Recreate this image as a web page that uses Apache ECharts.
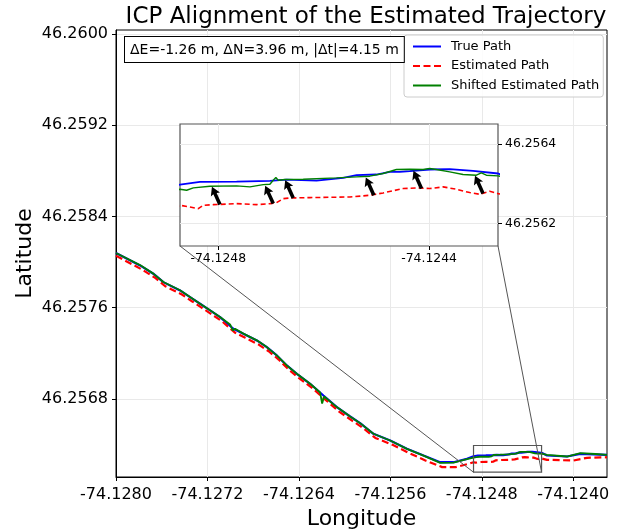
<!DOCTYPE html>
<html>
<head>
<meta charset="utf-8">
<title>ICP Alignment of the Estimated Trajectory</title>
<script src="https://cdn.jsdelivr.net/npm/echarts@6/dist/echarts.min.js"></script>
<style>
    html, body { margin: 0; padding: 0; background: #fff; }
    #chart { width: 618px; height: 529px; }
</style>
</head>
<body>
<div id="chart"></div>
<script>
// true GPS path
var trueLon = [-74.1280000, -74.1277899, -74.1276735, -74.1275860, -74.1274398, -74.1273523, -74.1272648,
    -74.1271772, -74.1270897, -74.1269733, -74.1268857, -74.1267684, -74.1266809, -74.1265934, -74.1265059,
    -74.1264183, -74.1263019, -74.1261855, -74.1260682, -74.1259518, -74.1258643, -74.1257479, -74.1256017,
    -74.1254555, -74.1253102, -74.1251640, -74.1250476, -74.1249303,
    -74.1248726, -74.1248347, -74.1247652, -74.1247020, -74.1246704, -74.1246136, -74.1245630, -74.1245377,
    -74.1244998, -74.1244746, -74.1244556, -74.1244366, -74.1243987, -74.1243608, -74.1243166, -74.1242692,
    -74.1242301, -74.1240550, -74.1239386, -74.1237049];
var trueLat = [46.2580790, 46.2579711, 46.2578983, 46.2578246, 46.2577518, 46.2576930, 46.2576351,
    46.2575763, 46.2575176, 46.2574158, 46.2573719, 46.2573132, 46.2572544, 46.2571816, 46.2570939,
    46.2570211, 46.2569333, 46.2568307, 46.2567281, 46.2566465, 46.2565877, 46.2564947, 46.2564360,
    46.2563632, 46.2563044, 46.2562456, 46.2562456, 46.2562754,
    46.2562978, 46.2563046, 46.2563054, 46.2563071, 46.2563104, 46.2563079, 46.2563147, 46.2563214,
    46.2563231, 46.2563298, 46.2563298, 46.2563315, 46.2563357, 46.2563365, 46.2563323, 46.2563256,
    46.2563044, 46.2562956, 46.2563193, 46.2563105];

// estimated path (before alignment)
var estLon = [-74.1280000, -74.1277734, -74.1276570, -74.1275695, -74.1274233, -74.1273358, -74.1272483,
    -74.1271607, -74.1270732, -74.1269568, -74.1268692, -74.1267519, -74.1266644, -74.1265769, -74.1264894,
    -74.1264018, -74.1262854, -74.1261690, -74.1260517, -74.1259353, -74.1258478, -74.1257314, -74.1255852,
    -74.1254390, -74.1252937, -74.1251475, -74.1250311, -74.1249138,
    -74.1248726, -74.1248537, -74.1248379, -74.1248284, -74.1248095, -74.1247652, -74.1247273, -74.1247020,
    -74.1246894, -74.1246768, -74.1246641, -74.1246262, -74.1245504, -74.1245125, -74.1244872, -74.1244493,
    -74.1244240, -74.1243987, -74.1243734, -74.1243482, -74.1243229, -74.1243039, -74.1242850, -74.1242692,
    -74.1242301, -74.1239973, -74.1238800, -74.1237049];
var estLat = [46.2580560, 46.2579351, 46.2578623, 46.2577886, 46.2577158, 46.2576570, 46.2575991,
    46.2575403, 46.2574816, 46.2573798, 46.2573359, 46.2572772, 46.2572184, 46.2571456, 46.2570579,
    46.2569851, 46.2568973, 46.2567947, 46.2566921, 46.2566105, 46.2565517, 46.2564587, 46.2564000,
    46.2563272, 46.2562614, 46.2562026, 46.2562018, 46.2562316,
    46.2562457, 46.2562415, 46.2562373, 46.2562457, 46.2562474, 46.2562499, 46.2562474, 46.2562499,
    46.2562524, 46.2562625, 46.2562642, 46.2562651, 46.2562667, 46.2562709, 46.2562768, 46.2562878,
    46.2562894, 46.2562878, 46.2562920, 46.2562861, 46.2562777, 46.2562735, 46.2562810, 46.2562751,
    46.2562667, 46.2562605, 46.2562842, 46.2562895];

// estimated path after the ICP shift
var shiftedLon = [-74.1280000, -74.1277899, -74.1276735, -74.1275860, -74.1274398, -74.1273523, -74.1272648,
    -74.1271772, -74.1270897, -74.1270022, -74.1269785, -74.1269584, -74.1268857, -74.1267684, -74.1266809,
    -74.1265934, -74.1265059, -74.1264183, -74.1263019, -74.1262144, -74.1261969, -74.1261794, -74.1260682,
    -74.1259518, -74.1258643, -74.1257479, -74.1256017, -74.1254555, -74.1253102, -74.1251640, -74.1250476,
    -74.1249303,
    -74.1248726, -74.1248600, -74.1248474, -74.1248158, -74.1247652, -74.1247399, -74.1247147, -74.1247020,
    -74.1246957, -74.1246907, -74.1246862, -74.1246736, -74.1246388, -74.1245757, -74.1245377, -74.1245125,
    -74.1244872, -74.1244619, -74.1244366, -74.1244114, -74.1243987, -74.1243861, -74.1243608, -74.1243355,
    -74.1243103, -74.1243008, -74.1242913, -74.1242692,
    -74.1242301, -74.1240550, -74.1239386, -74.1238073, -74.1237049];
var shiftedLat = [46.2580800, 46.2579740, 46.2578990, 46.2578260, 46.2577530, 46.2576950, 46.2576360,
    46.2575770, 46.2575190, 46.2574535, 46.2574009, 46.2574158, 46.2573730, 46.2573140, 46.2572550,
    46.2571820, 46.2570940, 46.2570220, 46.2569340, 46.2568570, 46.2567605, 46.2568219, 46.2567290,
    46.2566470, 46.2565880, 46.2564950, 46.2564360, 46.2563630, 46.2563040, 46.2562400, 46.2562420,
    46.2562720,
    46.2562861, 46.2562835, 46.2562894, 46.2562936, 46.2562945, 46.2562920, 46.2562978, 46.2562987,
    46.2563088, 46.2563155, 46.2563088, 46.2563104, 46.2563113, 46.2563147, 46.2563172, 46.2563189,
    46.2563256, 46.2563357, 46.2563365, 46.2563357, 46.2563382, 46.2563357, 46.2563298, 46.2563231,
    46.2563214, 46.2563273, 46.2563214, 46.2563197,
    46.2563105, 46.2562956, 46.2563246, 46.2563175, 46.2563105];

// quiver arrows (tail on estimated path, displacement in degrees)
var arrowLon = [-74.1247968, -74.1246957, -74.1246578, -74.1245048, -74.1244144, -74.1242976];
var arrowLat = [46.2562475, 46.2562500, 46.2562641, 46.2562709, 46.2562878, 46.2562752];
var arrowU = -1.52e-5;
var arrowV = 4.48e-5;

// axes
var xRange = [-74.1280, -74.123705];
var yRange = [46.256116, 46.260035];
var xTicks = [-74.1280, -74.1272, -74.1264, -74.1256, -74.1248, -74.1240];
var yTicks = [46.2568, 46.2576, 46.2584, 46.2592, 46.2600];

var insetXRange = [-74.1248726, -74.1242692];
var insetYRange = [46.2561435, 46.2564500];
var insetXTicks = [-74.1248, -74.1244];
var insetYTicks = [46.2562, 46.2564];

// zoom box drawn on the main axes
var boxLon = [-74.1248726, -74.1242774];
var boxLat = [46.2561579, 46.2563921];

var statsText = '\u0394E=-1.26 m, \u0394N=3.96 m, |\u0394t|=4.15 m';

function zip(a, b) {
    return a.map(function (v, i) { return [v, b[i]]; });
}

var FONT = 'DejaVu Sans';
var chart = echarts.init(document.getElementById('chart'));

function mainAxis(range, ticks, name, gap, margin) {
    return {
        type: 'value', gridIndex: 0, min: range[0], max: range[1],
        name: name, nameLocation: 'middle', nameGap: gap, nameMoveOverlap: false,
        nameTextStyle: { fontFamily: FONT, fontSize: 22, color: '#000' },
        axisLine: { show: true, lineStyle: { color: '#000', width: 1 } },
        axisTick: { show: true, length: 4, customValues: ticks, lineStyle: { color: '#000' } },
        axisLabel: {
            customValues: ticks, margin: margin, fontFamily: FONT, fontSize: 16, color: '#000',
            formatter: function (v) { return v.toFixed(4); }
        },
        splitLine: { show: true, lineStyle: { color: '#e9e9e9', width: 1 } }
    };
}

function insetAxis(range, ticks, pos) {
    return {
        type: 'value', gridIndex: 1, min: range[0], max: range[1], position: pos, z: 4,
        axisLine: { show: false },
        axisTick: { show: true, length: 4, customValues: ticks, lineStyle: { color: '#000' } },
        axisLabel: {
            customValues: ticks, margin: 7, fontFamily: FONT, fontSize: 12.4, color: '#000',
            formatter: function (v) { return v.toFixed(4); }
        },
        splitLine: { show: true, lineStyle: { color: '#e9e9e9', width: 1 } }
    };
}

var yMain = mainAxis(yRange, yTicks, 'Latitude', 80, 8);
yMain.nameRotate = 90;

var series = [
    { name: 'True Path', type: 'line', xAxisIndex: 0, yAxisIndex: 0, data: zip(trueLon, trueLat),
      symbol: 'none', lineStyle: { color: '#0000ff', width: 2.2 }, itemStyle: { color: '#0000ff' }, z: 2 },
    { name: 'Estimated Path', type: 'line', xAxisIndex: 0, yAxisIndex: 0, data: zip(estLon, estLat),
      symbol: 'none', lineStyle: { color: '#ff0000', width: 2.2, type: [7, 3.5] }, itemStyle: { color: '#ff0000' }, z: 2 },
    { name: 'Shifted Estimated Path', type: 'line', xAxisIndex: 0, yAxisIndex: 0, data: zip(shiftedLon, shiftedLat),
      symbol: 'none', lineStyle: { color: '#008000', width: 1.8 }, itemStyle: { color: '#008000' }, z: 2 },
    // inset copies
    { name: 'True Path', type: 'line', xAxisIndex: 1, yAxisIndex: 1, data: zip(trueLon, trueLat),
      symbol: 'none', lineStyle: { color: '#0000ff', width: 1.8 }, z: 5 },
    { name: 'Estimated Path', type: 'line', xAxisIndex: 1, yAxisIndex: 1, data: zip(estLon, estLat),
      symbol: 'none', lineStyle: { color: '#ff0000', width: 1.6, type: [5, 3] }, z: 5 },
    { name: 'Shifted Estimated Path', type: 'line', xAxisIndex: 1, yAxisIndex: 1, data: zip(shiftedLon, shiftedLat),
      symbol: 'none', lineStyle: { color: '#008000', width: 1.4 }, z: 5 },
    {
        type: 'custom', xAxisIndex: 1, yAxisIndex: 1, z: 6, silent: true,
        data: arrowLon.map(function (lon, i) {
            return [lon, arrowLat[i], lon + arrowU, arrowLat[i] + arrowV];
        }),
        renderItem: function (params, api) {
            var p0 = api.coord([api.value(0), api.value(1)]);
            var p1 = api.coord([api.value(2), api.value(3)]);
            var dx = p1[0] - p0[0], dy = p1[1] - p0[1];
            var len = Math.sqrt(dx * dx + dy * dy);
            var ux = dx / len, uy = dy / len, nx = -uy, ny = ux;
            var sw = 1.8, hw = 5, hl = 8.5, ha = 7.5;
            var cx = p1[0] - ux * hl, cy = p1[1] - uy * hl;
            var jx = p1[0] - ux * ha, jy = p1[1] - uy * ha;
            return {
                type: 'polygon',
                shape: { points: [
                    [p0[0] + nx * sw, p0[1] + ny * sw],
                    [jx + nx * sw, jy + ny * sw],
                    [cx + nx * hw, cy + ny * hw],
                    p1,
                    [cx - nx * hw, cy - ny * hw],
                    [jx - nx * sw, jy - ny * sw],
                    [p0[0] - nx * sw, p0[1] - ny * sw]
                ] },
                style: { fill: '#000' }
            };
        }
    }
];

var option = {
    animation: false,
    backgroundColor: '#fff',
    title: {
        text: 'ICP Alignment of the Estimated Trajectory',
        left: 361, top: 1, textAlign: 'center',
        textStyle: { fontFamily: FONT, fontSize: 23, fontWeight: 'normal', color: '#000' }
    },
    legend: {
        orient: 'vertical', left: 404, top: 35,
        data: ['True Path', 'Estimated Path', 'Shifted Estimated Path'],
        itemWidth: 28, itemHeight: 14, itemGap: 6.5,
        itemStyle: { opacity: 0 },
        textStyle: { fontFamily: FONT, fontSize: 13, color: '#000', padding: [0, 0, 0, 5] },
        backgroundColor: 'rgba(255,255,255,0.85)', borderColor: '#cccccc', borderWidth: 1, borderRadius: 3,
        padding: [5, 4, 5, 8]
    },
    grid: [
        { left: 116, top: 30, right: 11, bottom: 52, outerBoundsMode: 'none', containLabel: false,
          show: true, borderColor: '#000', borderWidth: 1 },
        { left: 180, top: 124, width: 318, height: 122, outerBoundsMode: 'none', containLabel: false,
          show: true, z: 3, backgroundColor: '#fff', borderColor: '#555', borderWidth: 1.2 }
    ],
    xAxis: [
        mainAxis(xRange, xTicks, 'Longitude', 31, 10),
        insetAxis(insetXRange, insetXTicks, 'bottom')
    ],
    yAxis: [
        yMain,
        insetAxis(insetYRange, insetYTicks, 'right')
    ],
    series: series
};

chart.setOption(option);

// zoom box, connector lines and the stats box
var bl = chart.convertToPixel({ gridIndex: 0 }, [boxLon[0], boxLat[0]]);
var tr = chart.convertToPixel({ gridIndex: 0 }, [boxLon[1], boxLat[1]]);
var insBL = chart.convertToPixel({ gridIndex: 1 }, [insetXRange[0], insetYRange[0]]);
var insBR = chart.convertToPixel({ gridIndex: 1 }, [insetXRange[1], insetYRange[0]]);

chart.setOption({
    graphic: [
        { type: 'rect', z: 4, silent: true,
          shape: { x: bl[0], y: tr[1], width: tr[0] - bl[0], height: bl[1] - tr[1] },
          style: { fill: 'none', stroke: '#555', lineWidth: 1.2 } },
        { type: 'line', z: 4, silent: true,
          shape: { x1: insBL[0], y1: insBL[1], x2: bl[0], y2: bl[1] },
          style: { stroke: '#555', lineWidth: 1 } },
        { type: 'line', z: 4, silent: true,
          shape: { x1: insBR[0], y1: insBR[1], x2: tr[0], y2: bl[1] },
          style: { stroke: '#555', lineWidth: 1 } },
        { type: 'text', left: 124, top: 36, z: 10, silent: true,
          style: { text: statsText, fontFamily: FONT, fontSize: 14, fill: '#000',
                   backgroundColor: '#fff', borderColor: '#000', borderWidth: 1, padding: [6, 5, 5, 5] } }
    ]
});
</script>
</body>
</html>
